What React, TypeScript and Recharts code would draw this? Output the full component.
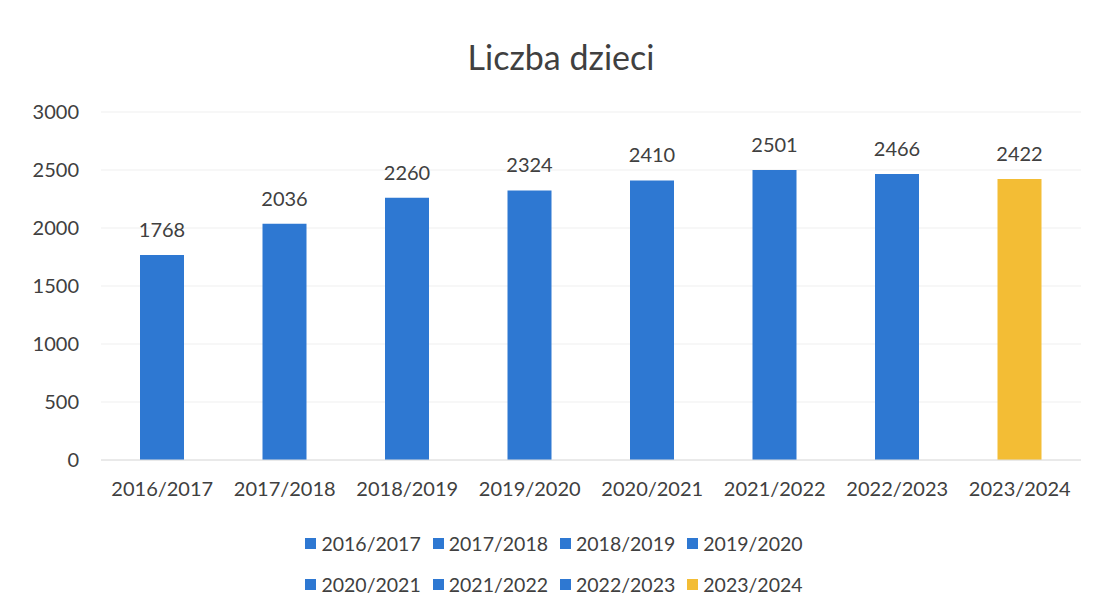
import { Bar, BarChart, CartesianGrid, Cell, LabelList, XAxis, YAxis } from "recharts";
import { ReactElement } from "react";

const years = [
  "2016/2017",
  "2017/2018",
  "2018/2019",
  "2019/2020",
  "2020/2021",
  "2021/2022",
  "2022/2023",
  "2023/2024",
];
const children = [1768, 2036, 2260, 2324, 2410, 2501, 2466, 2422];
const barColors = ["#2e78d2", "#2e78d2", "#2e78d2", "#2e78d2", "#2e78d2", "#2e78d2", "#2e78d2", "#f3bd35"];
const yTicks = [0, 500, 1000, 1500, 2000, 2500, 3000];

const data = years.map((year, i) => ({ year, value: children[i] }));

const FONT = "Lato, 'Open Sans', sans-serif";
const TEXT = "#404040";

function YTick({ y, payload }: any) {
  return (
    <text x={79} y={y} dy={7} textAnchor="end" fontSize={20} fill={TEXT} fontFamily={FONT}>
      {payload.value}
    </text>
  );
}

function XTick({ x, y, payload }: any) {
  return (
    <text x={x} y={y + 28} textAnchor="middle" fontSize={20} fill={TEXT} fontFamily={FONT}>
      {payload.value}
    </text>
  );
}

function LegendRows(): ReactElement {
  const rows = [years.slice(0, 4), years.slice(4)];
  return (
    <div
      style={{
        position: "absolute",
        top: 523,
        left: 0,
        width: 1108,
        fontFamily: FONT,
        fontSize: 19.5,
        color: TEXT,
      }}
    >
      {rows.map((row, r) => (
        <div key={r} style={{ display: "flex", justifyContent: "center", height: 41, alignItems: "center" }}>
          {row.map((name, k) => {
            const i = years.indexOf(name);
            return (
              <span
                key={name}
                style={{ display: "inline-flex", alignItems: "center", marginRight: k < row.length - 1 ? 12 : 0 }}
              >
                <span
                  style={{ width: 11, height: 11, background: barColors[i], marginRight: 5, display: "inline-block" }}
                />
                {name}
              </span>
            );
          })}
        </div>
      ))}
    </div>
  );
}

export default function App(): ReactElement {
  return (
    <div style={{ position: "absolute", left: 0, top: 0, width: 1099, height: 616, background: "#fff" }}>
      <div
        style={{
          position: "absolute",
          top: 36,
          left: 0,
          width: 1122,
          textAlign: "center",
          fontFamily: FONT,
          fontSize: 34,
          color: TEXT,
        }}
      >
        Liczba dzieci
      </div>
      <BarChart width={1099} height={616} data={data} margin={{ top: 112, right: 18, left: 0, bottom: 126 }} barSize={44}>
        <CartesianGrid vertical={false} stroke="#efefef" />
        <XAxis dataKey="year" tick={<XTick />} axisLine={{ stroke: "#dcdcdc" }} tickLine={false} interval={0} />
        <YAxis
          width={101}
          domain={[0, 3000]}
          ticks={yTicks}
          tick={<YTick />}
          axisLine={false}
          tickLine={false}
        />
        <Bar dataKey="value" isAnimationActive={false}>
          {data.map((d, i) => (
            <Cell key={d.year} fill={barColors[i]} />
          ))}
          <LabelList dataKey="value" position="top" offset={18} fontSize={20} fill={TEXT} fontFamily={FONT} />
        </Bar>
      </BarChart>
      <LegendRows />
    </div>
  );
}
